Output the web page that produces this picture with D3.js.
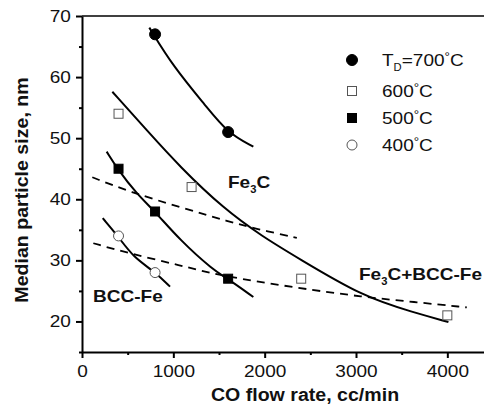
<!DOCTYPE html>
<html>
<head>
<meta charset="utf-8">
<script src="https://cdn.jsdelivr.net/npm/d3@7"></script>
<style>
  body { margin: 0; background: #fff; }
  svg { display: block; font-family: "Liberation Sans", Arial, sans-serif; }
</style>
</head>
<body>
<svg id="chart" width="484" height="408"></svg>
<script>
// measured points, T_D series
const td700X = [800, 1600];
const td700Y = [67, 51];
const td600X = [400, 1200, 2400, 4000];
const td600Y = [54, 42, 27, 21];
const td500X = [400, 800, 1600];
const td500Y = [45, 38, 27];
const td400X = [400, 800];
const td400Y = [34, 28];

// fitted curves (solid)
const fit700 = [[737, 68.1], [1000, 61.7], [1366, 55.1], [1591, 50.9], [1876, 48.6]];
const fit600 = [[332, 57.6], [709, 51.3], [1073, 45.3], [1548, 38.5], [1986, 33.8], [2352, 30.5], [3081, 24.0], [3629, 21.5], [4012, 19.9]];
const fit500 = [[270, 47.8], [387, 45.0], [599, 40.9], [800, 38.0], [1073, 33.3], [1438, 28.4], [1585, 27.1], [1876, 24.0]];
const fit400 = [[227, 36.9], [398, 33.9], [562, 30.5], [800, 28.1], [964, 25.7]];

// phase boundaries (dashed)
const boundUpper = [[113, 43.6], [526, 41.2], [1073, 38.7], [1621, 36.3], [1895, 35.2], [2352, 33.7]];
const boundLower = [[124, 32.8], [526, 31.1], [1073, 29.2], [1511, 27.5], [2352, 25.5], [3081, 24.0], [3629, 23.2], [4213, 22.3]];

const xTicks = [0, 1000, 2000, 3000, 4000];
const xMinor = [500, 1500, 2500, 3500];
const yTicks = [20, 30, 40, 50, 60, 70];
const yMinor = [15, 25, 35, 45, 55, 65];

const STRETCH = 'scale(1.12,1)';
const margin = { left: 82, top: 16 };
const svg = d3.select('#chart');

const x = d3.scaleLinear().domain([0, 4500]).range([82, 493]);
const y = d3.scaleLinear().domain([15, 70]).range([352, 16]);

// axes
svg.append('g')
  .attr('transform', 'translate(' + margin.left + ',0)')
  .call(d3.axisLeft(y).tickValues(yTicks).tickSize(6).tickSizeOuter(0).tickPadding(4).tickFormat(d3.format('d')));
svg.append('g')
  .attr('transform', 'translate(' + margin.left + ',0)')
  .call(d3.axisLeft(y).tickValues(yMinor).tickSize(3).tickFormat(''))
  .select('.domain').remove();

svg.append('g')
  .attr('transform', 'translate(0,352)')
  .call(d3.axisBottom(x).tickValues(xTicks).tickSize(6).tickSizeOuter(0).tickPadding(7).tickFormat(d3.format('d')));
svg.append('g')
  .attr('transform', 'translate(0,352)')
  .call(d3.axisBottom(x).tickValues(xMinor).tickSize(3).tickFormat(''))
  .select('.domain').remove();

svg.selectAll('.domain').attr('stroke', '#000').attr('stroke-width', 2);
svg.selectAll('.tick line').attr('stroke', '#000').attr('stroke-width', 2);
svg.selectAll('.tick text')
  .attr('font-size', 17)
  .attr('font-family', '"Liberation Sans", Arial, sans-serif')
  .attr('fill', '#111')
  .attr('transform', STRETCH);

// top frame line
svg.append('line')
  .attr('x1', x(0)).attr('x2', x(4500))
  .attr('y1', y(70)).attr('y2', y(70))
  .attr('stroke', '#000').attr('stroke-width', 1.5);

// curves
const line = d3.line()
  .x(d => x(d[0]))
  .y(d => y(d[1]))
  .curve(d3.curveBasis);

[fit700, fit600, fit500, fit400].forEach(c => {
  svg.append('path')
    .attr('d', line(c))
    .attr('fill', 'none')
    .attr('stroke', '#000')
    .attr('stroke-width', 2);
});
[boundUpper, boundLower].forEach(c => {
  svg.append('path')
    .attr('d', line(c))
    .attr('fill', 'none')
    .attr('stroke', '#000')
    .attr('stroke-width', 1.8)
    .attr('stroke-dasharray', '8,6');
});

// markers
function drawMarkers(xs, ys, kind) {
  xs.forEach((v, i) => drawMarker(x(v), y(ys[i]), kind));
}
function drawMarker(cx, cy, kind) {
  if (kind === 'circleFilled' || kind === 'circleOpen') {
    svg.append('circle')
      .attr('cx', cx).attr('cy', cy).attr('r', kind === 'circleFilled' ? 5.5 : 5)
      .attr('fill', kind === 'circleFilled' ? '#000' : '#fff')
      .attr('stroke', kind === 'circleFilled' ? '#000' : '#555')
      .attr('stroke-width', 1);
  } else {
    svg.append('rect')
      .attr('x', cx - 4.5).attr('y', cy - 4.5)
      .attr('width', 9).attr('height', 9)
      .attr('fill', kind === 'squareFilled' ? '#000' : '#fff')
      .attr('stroke', kind === 'squareFilled' ? '#000' : '#555')
      .attr('stroke-width', 1);
  }
}
drawMarkers(td700X, td700Y, 'circleFilled');
drawMarkers(td600X, td600Y, 'squareOpen');
drawMarkers(td500X, td500Y, 'squareFilled');
drawMarkers(td400X, td400Y, 'circleOpen');

// legend
const legendTemps = ['700', '600', '500', '400'];
const legendKinds = ['circleFilled', 'squareOpen', 'squareFilled', 'circleOpen'];
const legendRowY = [60, 91, 118, 145];
legendTemps.forEach((temp, i) => {
  drawMarker(352, legendRowY[i], legendKinds[i]);
  const t = svg.append('text')
    .attr('transform', 'translate(382,' + (legendRowY[i] + 6) + ') ' + STRETCH)
    .attr('font-size', 17).attr('fill', '#111');
  if (i === 0) {
    t.append('tspan').text('T');
    t.append('tspan').attr('font-size', 10).attr('dy', 5).text('D');
    t.append('tspan').attr('dy', -5).text('=' + temp);
  } else {
    t.append('tspan').text(temp);
  }
  t.append('tspan').attr('font-size', 12).attr('dy', -5).text('°');
  t.append('tspan').attr('dy', 5).text('C');
});

// phase labels
function phaseLabel(px, py, parts) {
  const t = svg.append('text')
    .attr('transform', 'translate(' + px + ',' + py + ') ' + STRETCH)
    .attr('font-size', 17).attr('font-weight', 'bold').attr('fill', '#111');
  parts.forEach(p => {
    if (p.sub) {
      t.append('tspan').attr('font-size', 10).attr('dy', 5).text(p.text);
    } else {
      t.append('tspan').attr('dy', p.after ? -5 : 0).text(p.text);
    }
  });
}
phaseLabel(228, 188, [{ text: 'Fe' }, { text: '3', sub: true }, { text: 'C', after: true }]);
phaseLabel(359, 280, [{ text: 'Fe' }, { text: '3', sub: true }, { text: 'C+BCC-Fe', after: true }]);
phaseLabel(93, 302, [{ text: 'BCC-Fe' }]);

// axis titles
svg.append('text')
  .attr('transform', 'translate(305,401) ' + STRETCH)
  .attr('text-anchor', 'middle')
  .attr('font-size', 17.5).attr('font-weight', 'bold').attr('fill', '#111')
  .text('CO flow rate, cc/min');
svg.append('text')
  .attr('transform', 'translate(28,190) rotate(-90) ' + STRETCH)
  .attr('text-anchor', 'middle')
  .attr('font-size', 17.5).attr('font-weight', 'bold').attr('fill', '#111')
  .text('Median particle size, nm');
</script>
</body>
</html>
